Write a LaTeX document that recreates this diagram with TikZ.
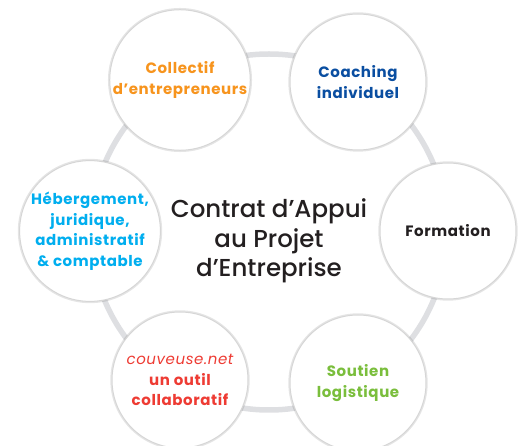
\documentclass[tikz,border=0pt]{standalone}
\usepackage{fontspec}
\setmainfont{Poppins}
\newfontfamily\hubfont{Poppins Medium}
\usetikzlibrary{shadows}
\definecolor{ringgray}{RGB}{222,223,226}
\definecolor{orangec}{RGB}{247,148,29}
\definecolor{bluec}{RGB}{10,78,161}
\definecolor{greenc}{RGB}{122,190,60}
\definecolor{redc}{RGB}{238,59,51}
\definecolor{cyanc}{RGB}{0,174,239}
\definecolor{darkc}{RGB}{35,31,32}
\tikzset{
  bubble/.style={circle, draw=black!16, line width=1pt, fill=white,
    minimum size=136pt, inner sep=0pt, align=center,
    drop shadow={shadow xshift=0pt, shadow yshift=0pt, shadow scale=1.025, fill=black, opacity=0.10},
    font=\bfseries\fontsize{15}{20.5}\selectfont\addfontfeatures{LetterSpace=4}},
  hubtext/.style={align=center, font=\hubfont\fontsize{24.5}{29.5}\selectfont, text=darkc}
}
\begin{document}
\begin{tikzpicture}[x=1pt,y=-1pt]
  \useasboundingbox (0,0) rectangle (528,446);
  \coordinate (hub) at (269,232);
  \coordinate (pcoll) at (180,80);
  \coordinate (pcoach) at (358,82);
  \coordinate (pform) at (448,231);
  \coordinate (psout) at (358,383);
  \coordinate (pcouv) at (180,383);
  \coordinate (pheb) at (90,231);

  \draw[ringgray, line width=5.5pt] (hub) circle [radius=178pt];

  \node[bubble, text=orangec] (collectif) at (pcoll) {\raisebox{5pt}{\begin{tabular}{@{}c@{}}Collectif\\d’entrepreneurs\end{tabular}}};
  \node[bubble, text=bluec] (coaching) at (pcoach) {Coaching\\individuel};
  \node[bubble, text=darkc] (formation) at (pform) {Formation};
  \node[bubble, text=greenc] (soutien) at (psout) {Soutien\\logistique};
  \node[bubble, text=redc] (couveuse) at ([yshift=3pt]pcouv) {{\mdseries\itshape couveuse.net}\\un outil\\collaboratif};
  \node[bubble, text=cyanc] (hebergement) at (pheb) {Hébergement,\\juridique,\\administratif\\\& comptable};

  \node[hubtext] (contrat) at ([yshift=-9pt]hub) {Contrat d’Appui\\au Projet\\d’Entreprise};
\end{tikzpicture}
\end{document}
